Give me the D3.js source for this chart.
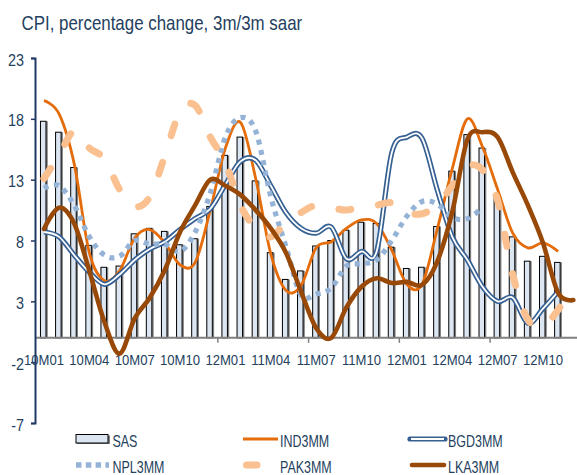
<!DOCTYPE html>
<html>
<head>
<meta charset="utf-8">
<script src="https://cdn.jsdelivr.net/npm/d3@7"></script>
<style>
  html, body { margin: 0; padding: 0; background: #fff; }
  svg { display: block; font-family: "Liberation Sans", Arial, sans-serif; }
</style>
</head>
<body>
<svg id="chart" width="577" height="475"></svg>
<script>
// Monthly categories, Jan 2010 - Dec 2012
const months = [
  "10M01","10M02","10M03","10M04","10M05","10M06","10M07","10M08","10M09","10M10","10M11","10M12",
  "11M01","11M02","11M03","11M04","11M05","11M06","11M07","11M08","11M09","11M10","11M11","11M12",
  "12M01","12M02","12M03","12M04","12M05","12M06","12M07","12M08","12M09","12M10","12M11","12M12"
];
// Axis labels shown every third month (as printed)
const xTickLabels = ["10M01","10M04","10M07","10M10","12M01","11M04","11M07","11M10","12M01","12M04","12M07","12M10"];
const yTicks = [-7, -2, 3, 8, 13, 18, 23];

// South Asia aggregate (bars)
const sas = [17.8,16.9,14.0,7.6,5.8,5.9,8.55,9.0,8.75,7.65,8.15,10.8,
             15.0,16.5,12.9,7.0,4.8,5.5,7.55,8.0,8.85,9.5,9.4,7.45,
             5.7,5.8,9.15,13.7,16.7,15.6,11.6,8.3,6.3,6.7,6.2];
// Country 3m/3m series
const ind = [19.5,18.4,14.3,7.0,4.7,5.5,8.2,8.9,7.8,6.0,6.2,10.5,
             15.6,17.7,13.1,6.9,3.9,4.3,7.4,7.9,9.0,9.7,9.4,7.2,
             4.4,4.4,8.9,13.9,18.0,15.7,12.2,8.6,7.4,7.8,7.1];
const bgd = [8.7,8.3,6.8,5.4,4.4,5.2,6.4,7.3,7.9,8.9,9.8,10.6,
             12.6,14.5,14.6,12.5,10.3,9.0,8.6,9.1,6.5,7.1,7.1,15.2,
             16.5,16.4,12.2,8.3,6.4,4.2,3.0,3.3,1.2,2.4,3.8];
const npl = [12.3,12.5,10.9,8.3,6.8,6.7,8.0,7.7,7.7,7.1,8.7,11.9,
             16.5,18.1,17.0,11.6,7.5,3.5,3.6,4.1,5.9,6.1,6.4,8.0,
             10.0,11.2,11.0,9.9,9.8,10.7];
const pak = [13.1,15.0,17.0,15.6,14.7,12.2,10.8,11.6,15.0,18.6,19.1,16.5,
             14.4,10.9,9.0,8.3,9.45,10.3,10.9,10.7,10.5,10.8,10.9,11.1,
             10.3,10.2,10.9,12.5,14.1,13.8,11.3,5.2,1.5,1.0,2.3,4.3];
const lka = [8.95,10.7,9.4,5.5,1.3,-1.3,1.6,3.3,5.6,8.7,10.9,13.0,
             12.5,11.75,10.5,9.0,7.0,3.8,0.8,0.0,2.5,4.2,4.9,4.5,
             4.6,4.35,6.25,10.35,16.3,16.9,16.5,13.6,10.9,7.8,3.7,3.1];

const seriesNames = ["SAS","IND3MM","BGD3MM","NPL3MM","PAK3MM","LKA3MM"];

const TEXT = "#243F60";
const svg = d3.select("#chart");

const x = d3.scaleBand().domain(months).range([36.4, 580.8]).padding(0);
const y = d3.scaleLinear().domain([-7, 23]).range([423, 58]);
const cx = m => x(m) + x.bandwidth() / 2;

// Title
svg.append("text")
  .attr("transform", "translate(21.5,29.5) scale(0.845,1)")
  .attr("font-size", 20).attr("fill", TEXT)
  .text("CPI, percentage change, 3m/3m saar");

// Bars (SAS)
const barW = 5.5;
const bars = svg.append("g");
bars.selectAll("rect.shadow").data(sas).join("rect")
  .attr("class", "shadow")
  .attr("x", (d, i) => cx(months[i]) - 4 + barW + 0.5)
  .attr("width", 1.8)
  .attr("y", d => y(d))
  .attr("height", d => y(0) - y(d))
  .attr("fill", "#7f7f7f");
bars.selectAll("rect.bar").data(sas).join("rect")
  .attr("class", "bar")
  .attr("x", (d, i) => cx(months[i]) - 3.5)
  .attr("width", barW)
  .attr("y", d => y(d))
  .attr("height", d => y(0) - y(d))
  .attr("fill", "#DCE6F2")
  .attr("stroke", "#000").attr("stroke-width", 1);

// X axis (zero line), ticks every six months, labels every three
svg.append("line")
  .attr("x1", 35).attr("x2", 577).attr("y1", y(0)).attr("y2", y(0))
  .attr("stroke", "#808080").attr("stroke-width", 2);
svg.append("g").selectAll("line").data(months.filter((m, i) => i > 0 && i % 6 === 0)).join("line")
  .attr("x1", d => x(d)).attr("x2", d => x(d))
  .attr("y1", y(0)).attr("y2", y(0) + 5)
  .attr("stroke", "#808080").attr("stroke-width", 1.5);

const xAxis = d3.axisBottom(x)
  .tickValues(months.filter((m, i) => i % 3 === 0))
  .tickSize(0)
  .tickFormat(d => xTickLabels[months.indexOf(d) / 3]);
const gx = svg.append("g").attr("transform", `translate(0,${y(0)})`).call(xAxis);
gx.select(".domain").remove();
gx.selectAll("text")
  .attr("y", 0).attr("dy", 0)
  .attr("transform", "translate(0,27) scale(0.845,1)")
  .attr("font-size", 15.5).attr("font-family", "Liberation Sans, Arial, sans-serif")
  .attr("fill", TEXT);

// Y axis
const yAxis = d3.axisLeft(y).tickValues(yTicks).tickSize(4).tickFormat(d => String(d));
const gy = svg.append("g").attr("transform", "translate(35,0)").call(yAxis);
gy.select(".domain").attr("stroke", "#1F3864").attr("stroke-width", 2);
gy.selectAll(".tick line").attr("stroke", "#1F3864").attr("stroke-width", 1.5);
gy.selectAll("text")
  .attr("x", 0).attr("dy", 0)
  .attr("transform", "translate(-11,7) scale(0.9,1)")
  .attr("font-size", 16).attr("font-family", "Liberation Sans, Arial, sans-serif")
  .attr("fill", TEXT);

// Lines
const line = d3.line()
  .x((d, i) => cx(months[i]))
  .y(d => y(d))
  .curve(d3.curveCatmullRom.alpha(0));
const lines = svg.append("g").attr("fill", "none");

lines.append("path").attr("d", line(ind))
  .attr("stroke", "#E46C0A").attr("stroke-width", 2.8);

lines.append("path").attr("d", line(bgd))
  .attr("stroke", "#366092").attr("stroke-width", 5.2);
lines.append("path").attr("d", line(bgd))
  .attr("stroke", "#fff").attr("stroke-width", 1.8);

lines.append("path").attr("d", line(npl))
  .attr("stroke", "#95B3D7").attr("stroke-width", 5.2)
  .attr("stroke-dasharray", "5,5.5");

lines.append("path").attr("d", line(pak))
  .attr("stroke", "#FAC090").attr("stroke-width", 7)
  .attr("stroke-linecap", "round")
  .attr("stroke-dasharray", "12,28");

lines.append("path").attr("d", line(lka))
  .attr("stroke", "#984807").attr("stroke-width", 4.6)
  .attr("stroke-linecap", "round");

// Legend
const leg = svg.append("g");
const rows = [439, 465];
const cols = [76, 243, 410];
const labelX = [112.5, 280, 448];
const swW = 33;

// SAS swatch
leg.append("rect").attr("x", cols[0] + 1).attr("y", rows[0] - 3.5).attr("width", swW).attr("height", 8.5)
  .attr("fill", "#7f7f7f");
leg.append("rect").attr("x", cols[0]).attr("y", rows[0] - 4.5).attr("width", swW - 1).attr("height", 8.5)
  .attr("fill", "#DCE6F2").attr("stroke", "#000").attr("stroke-width", 1);
// IND3MM
leg.append("line").attr("x1", cols[1]).attr("x2", cols[1] + 35).attr("y1", rows[0]).attr("y2", rows[0])
  .attr("stroke", "#E46C0A").attr("stroke-width", 3);
// BGD3MM
leg.append("line").attr("x1", cols[2]).attr("x2", cols[2] + 35).attr("y1", rows[0]).attr("y2", rows[0])
  .attr("stroke", "#366092").attr("stroke-width", 5.2).attr("stroke-linecap", "round");
leg.append("line").attr("x1", cols[2] + 1).attr("x2", cols[2] + 34).attr("y1", rows[0]).attr("y2", rows[0])
  .attr("stroke", "#fff").attr("stroke-width", 1.8);
// NPL3MM
leg.append("line").attr("x1", cols[0]).attr("x2", cols[0] + 33).attr("y1", rows[1]).attr("y2", rows[1])
  .attr("stroke", "#95B3D7").attr("stroke-width", 5.5).attr("stroke-dasharray", "5.5,4.3");
// PAK3MM
leg.append("line").attr("x1", cols[1] + 3.5).attr("x2", cols[1] + 14).attr("y1", rows[1]).attr("y2", rows[1])
  .attr("stroke", "#FAC090").attr("stroke-width", 7).attr("stroke-linecap", "round");
// LKA3MM
leg.append("line").attr("x1", cols[2] + 2).attr("x2", cols[2] + 34).attr("y1", rows[1]).attr("y2", rows[1])
  .attr("stroke", "#984807").attr("stroke-width", 4.6).attr("stroke-linecap", "round");

const legendItems = [
  { name: seriesNames[0], col: 0, row: 0 },
  { name: seriesNames[1], col: 1, row: 0 },
  { name: seriesNames[2], col: 2, row: 0 },
  { name: seriesNames[3], col: 0, row: 1 },
  { name: seriesNames[4], col: 1, row: 1 },
  { name: seriesNames[5], col: 2, row: 1 }
];
leg.selectAll("text").data(legendItems).join("text")
  .attr("transform", d => `translate(${labelX[d.col]},${rows[d.row] + 7.5}) scale(0.78,1)`)
  .attr("font-size", 16).attr("fill", TEXT)
  .text(d => d.name);
</script>
</body>
</html>
